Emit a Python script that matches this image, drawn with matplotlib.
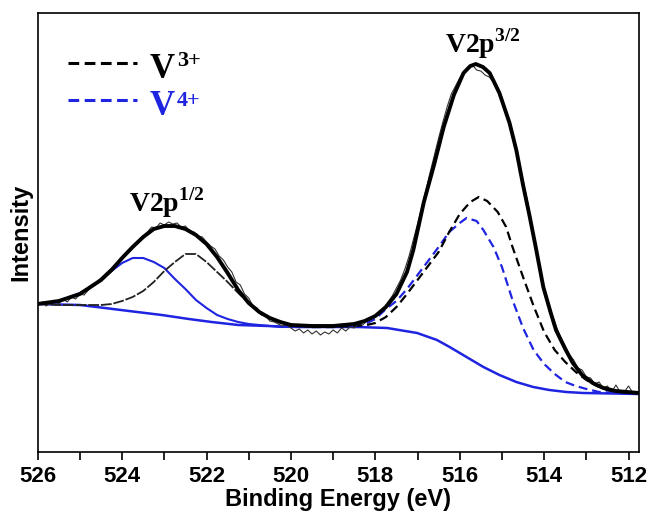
from matplotlib import pyplot as plt
from matplotlib.lines import Line2D

plt.rcParams['mathtext.fontset'] = 'custom'
plt.rcParams['mathtext.rm'] = 'Liberation Serif'
plt.rcParams['mathtext.bf'] = 'Liberation Serif:bold'

BLUE = '#1f24e0'

# raw spectrum (binding energy in eV, intensity in a.u.)
raw_e = [526.0, 525.9, 525.8, 525.7, 525.6, 525.5, 525.4, 525.3, 525.2, 525.1,
         525.0, 524.9, 524.8, 524.6, 524.4, 524.2, 524.0, 523.8, 523.6, 523.4,
         523.3, 523.2, 523.1, 523.0, 522.9, 522.8, 522.7, 522.6, 522.5, 522.4,
         522.3, 522.2, 522.1, 522.0, 521.9, 521.8, 521.7, 521.6, 521.5, 521.4,
         521.3, 521.2, 521.1, 521.0, 520.9, 520.8, 520.7, 520.6, 520.5, 520.4,
         520.3, 520.2, 520.1, 520.0, 519.9, 519.8, 519.7, 519.6, 519.5, 519.4,
         519.3, 519.2, 519.1, 519.0, 518.9, 518.8, 518.7, 518.6, 518.5, 518.4,
         518.3, 518.2, 518.1, 518.0, 517.9, 517.8, 517.7, 517.6, 517.5, 517.4,
         517.3, 517.2, 517.1, 517.0, 516.9, 516.8, 516.7, 516.6, 516.5, 516.4,
         516.3, 516.2, 516.1, 516.0, 515.9, 515.8, 515.7, 515.6, 515.5, 515.4,
         515.3, 515.2, 515.0, 514.8, 514.6, 514.4, 514.2, 514.0, 513.9, 513.8,
         513.7, 513.6, 513.5, 513.4, 513.3, 513.2, 513.1, 513.0, 512.9, 512.8,
         512.7, 512.6, 512.5, 512.4, 512.3, 512.2, 512.1, 512.0, 511.9, 511.8]
raw_i = [147, 150, 146, 149, 151, 148, 153, 150, 155, 153,
         158, 157, 162, 170, 178, 186, 195, 204, 212, 220,
         225, 224, 229, 227, 230, 228, 229, 225, 226, 221,
         220, 216, 215, 210, 206, 203, 196, 192, 185, 180,
         170, 167, 158, 154, 146, 144, 137, 136, 131, 130,
         128, 126, 127, 124, 121, 123, 119, 122, 118, 121,
         117, 120, 118, 122, 119, 124, 121, 125, 124, 128,
         127, 131, 133, 137, 139, 144, 150, 156, 164, 172,
         183, 196, 212, 228, 245, 262, 280, 297, 314, 330,
         345, 358, 366, 374, 381, 385, 387, 382, 381, 377,
         375, 370, 352, 326, 291, 252, 206, 164, 150, 136,
         124, 114, 106, 97, 92, 84, 82, 75, 74, 68,
         70, 64, 66, 60, 67, 60, 60, 66, 59, 59]

# fitted envelope
fit_e = [526.0, 525.5, 525.0, 524.75, 524.5, 524.25, 524.0, 523.75, 523.5, 523.25,
         523.0, 522.75, 522.5, 522.25, 522.0, 521.75, 521.5, 521.25, 521.0, 520.75,
         520.5, 520.25, 520.0, 519.5, 519.0, 518.5, 518.25, 518.0, 517.75, 517.5,
         517.25, 517.1, 516.85, 516.61, 516.38, 516.14, 515.91, 515.75, 515.62, 515.45,
         515.29, 515.06, 514.82, 514.66, 514.5, 514.35, 514.2, 514.02, 513.85, 513.72,
         513.5, 513.32, 513.1, 512.85, 512.6, 512.31, 511.76]
fit_i = [148, 151, 158, 165, 172, 182, 194, 205, 215, 223,
         226, 226, 223, 217, 208, 195, 179, 162, 149, 140,
         134, 130, 127, 126, 126, 128, 131, 136, 145, 158,
         180, 202, 250, 287, 325, 357, 379, 386, 388, 385,
         379, 359, 329, 302, 267, 237, 205, 165, 140, 122,
         103, 89, 77, 69, 64, 61, 59]

# Shirley background
bg_e = [526.0, 525.0, 524.6, 523.84, 523.06, 522.42, 521.88, 521.25, 520.54, 519.84,
        518.42, 517.72, 517.01, 516.54, 516.24, 515.84, 515.44, 515.06, 514.66, 514.26,
        513.88, 513.48, 513.08, 511.76]
bg_i = [148, 147, 145, 141, 137, 133, 130, 127, 126, 125,
        125, 124, 119, 112, 105, 95, 85, 77, 70, 65,
        62, 60, 59, 58]

# V2p1/2 components
p12_e = [526.0, 525.5, 525.0, 524.75, 524.5, 524.25, 524.0, 523.75, 523.5, 523.25,
         523.0, 522.75, 522.5, 522.25, 522.0, 521.75, 521.5, 521.25, 521.0, 520.75,
         520.5, 520.25, 520.0, 519.5]
v4_12 = [148, 151, 159, 165, 172, 181, 189, 194, 194, 190,
         184, 173, 163, 152, 144, 137, 133, 130, 128, 127,
         126, 125, 125, 125]
v3_12 = [148, 147, 147, 147, 147, 148, 151, 155, 161, 170,
         181, 190, 198, 198, 190, 180, 170, 159, 149, 140,
         134, 130, 127, 125]

# V2p3/2 components
v3_32_e = [519.5, 519.0, 518.5, 518.2, 518.0, 517.75, 517.5, 517.25, 517.0, 516.75,
           516.5, 516.25, 516.0, 515.75, 515.55, 515.35, 515.1, 514.9, 514.75, 514.5,
           514.25, 514.0, 513.75, 513.5, 513.25, 513.0, 512.75, 512.5, 512.2, 511.76]
v3_32_i = [125, 125, 126, 127, 129, 135, 145, 158, 172, 186,
           200, 220, 238, 250, 255, 251, 240, 225, 205, 175,
           146, 120, 102, 90, 80, 72, 66, 62, 60, 59]
v4_32_e = [519.5, 519.0, 518.5, 518.2, 518.0, 517.75, 517.5, 517.25, 517.0, 516.75,
           516.5, 516.25, 516.0, 515.84, 515.6, 515.44, 515.2, 515.0, 514.75, 514.5,
           514.25, 514.0, 513.75, 513.5, 513.25, 513.0, 512.7, 512.2, 511.76]
v4_32_i = [125, 125, 127, 129, 133, 143, 151, 163, 177, 191,
           205, 220, 229, 234, 231, 222, 205, 185, 152, 124,
           102, 88, 78, 70, 66, 63, 60, 59, 59]


def plot_spectrum():
    fig = plt.figure(figsize=(6.5, 5.11), dpi=100)
    ax = fig.add_axes([0.058, 0.1155, 0.9246, 0.859])

    ax.plot(bg_e, bg_i, color=BLUE, lw=1.8)
    ax.plot(p12_e, v4_12, color=BLUE, lw=1.5)
    ax.plot(p12_e, v3_12, color='#222222', lw=1.3, ls=(0, (6, 1)))
    ax.plot(v4_32_e, v4_32_i, color=BLUE, lw=1.6, ls=(0, (4, 2.2)))
    ax.plot(v3_32_e, v3_32_i, color='black', lw=1.6, ls=(0, (4, 2.2)))
    ax.plot(raw_e, raw_i, color='#333333', lw=0.8)
    ax.plot(fit_e, fit_i, color='black', lw=2.8)

    ax.set_xlim(526, 511.76)
    ax.set_ylim(0, 439)
    ax.set_xticks([526, 524, 522, 520, 518, 516, 514, 512])
    ax.set_xticks([525, 523, 521, 519, 517, 515, 513], minor=True)
    ax.tick_params(axis='x', which='both', direction='out', length=6, width=1.2,
                   top=False, labelsize=16, pad=4)
    ax.set_yticks([])
    for lab in ax.get_xticklabels():
        lab.set_fontfamily('Liberation Sans')
        lab.set_fontweight('bold')
    for sp in ax.spines.values():
        sp.set_linewidth(1.2)

    ax.set_xlabel('Binding Energy (eV)', fontsize=17, fontweight='bold',
                  family='Liberation Sans', labelpad=1)
    ax.set_ylabel('Intensity', fontsize=17, fontweight='bold',
                  family='Liberation Sans', labelpad=4)

    # peak labels
    ax.text(522.94, 240, r'$\mathbf{V2p}^{\mathbf{1/2}}$', fontsize=20,
            ha='center', va='baseline')
    ax.text(515.46, 399, r'$\mathbf{V2p}^{\mathbf{3/2}}$', fontsize=20,
            ha='center', va='baseline')

    # hand-made legend
    for y, col, sup, sy in [(0.886, 'black', '3+', 0.879), (0.802, BLUE, '4+', 0.788)]:
        ax.add_line(Line2D([0.05, 0.166], [y, y], transform=ax.transAxes,
                           color=col, lw=2.2, ls=(0, (3.5, 1.8))))
        ax.text(0.187, y - 0.034, 'V', transform=ax.transAxes, color=col,
                fontsize=25, fontweight='bold', family='Liberation Serif',
                va='baseline')
        ax.text(0.232, sy, sup, transform=ax.transAxes, color=col,
                fontsize=16, fontweight='bold', family='Liberation Serif',
                va='baseline')

    fig.savefig('out.png', dpi=100)


if __name__ == "__main__":
    plot_spectrum()
